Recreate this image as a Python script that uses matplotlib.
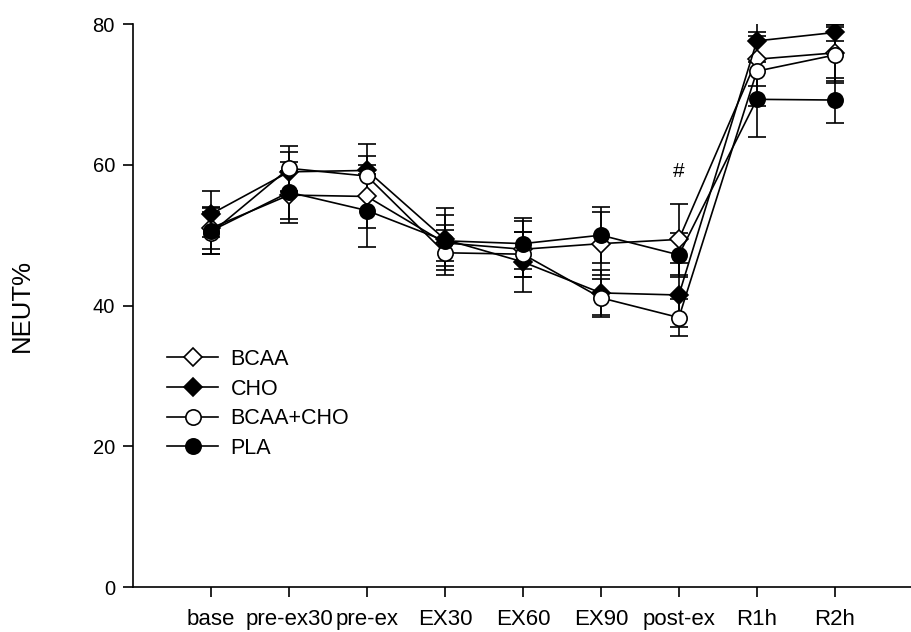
import numpy as np
import matplotlib as mpl
mpl.use('Agg')
import matplotlib.pyplot as plt

plt.rcParams['font.family'] = ['Liberation Sans', 'DejaVu Sans']

# time points
labels = ["base", "pre-ex30", "pre-ex", "EX30", "EX60", "EX90", "post-ex", "R1h", "R2h"]

# NEUT% means and SEM for each trial
bcaa = [51.0, 55.7, 55.5, 48.9, 48.0, 48.8, 49.4, 75.0, 75.9]
bcaa_err = [3.0, 3.4, 4.5, 2.5, 4.0, 4.5, 5.1, 3.8, 4.0]

cho = [53.0, 59.0, 59.2, 49.4, 46.2, 41.8, 41.5, 77.6, 78.8]
cho_err = [3.3, 2.8, 3.7, 4.4, 4.3, 3.2, 4.5, 2.5, 1.2]

bcaa_cho = [50.3, 59.5, 58.4, 47.5, 47.3, 41.1, 38.3, 73.3, 75.6]
bcaa_cho_err = [3.0, 3.2, 2.8, 3.2, 3.2, 2.7, 2.6, 5.0, 4.0]

pla = [50.6, 56.1, 53.5, 49.2, 48.8, 50.0, 47.2, 69.3, 69.2]
pla_err = [3.3, 4.3, 5.2, 3.6, 3.6, 4.0, 3.1, 5.3, 3.2]

x = np.arange(1, len(labels) + 1)

fig = plt.figure(figsize=(9.11, 6.32), dpi=100)
ax = fig.add_axes([0.146, 0.071, 0.856, 0.891])

series = [
    ("BCAA", bcaa, bcaa_err, "D", "white"),
    ("CHO", cho, cho_err, "D", "black"),
    ("BCAA+CHO", bcaa_cho, bcaa_cho_err, "o", "white"),
    ("PLA", pla, pla_err, "o", "black"),
]

for name, y, err, mk, fc in series:
    ms = 9.5 if mk == "D" else 11
    ax.errorbar(x, y, yerr=err, color="black", lw=1.2, elinewidth=1.2,
                capsize=6.5, capthick=1.2, marker=mk, ms=ms, mfc=fc,
                mec="black", mew=1.2, label=name)

# significance mark at post-ex
ax.text(7, 59, "#", ha="center", va="center", fontsize=15)

ax.set_xlim(0, 10)
ax.set_ylim(0, 80)
ax.set_xticks(x)
ax.set_xticklabels(labels)
ax.set_yticks([0, 20, 40, 60, 80])
ax.tick_params(length=7, width=1.2)
ax.tick_params(axis="x", pad=9, labelsize=16)
ax.tick_params(axis="y", pad=6, labelsize=14.5)
ax.spines["top"].set_visible(False)
ax.spines["right"].set_visible(False)
ax.spines["left"].set_linewidth(1.2)
ax.spines["bottom"].set_linewidth(1.2)
ax.set_ylabel("NEUT%", fontsize=18.5)
ax.yaxis.set_label_coords(-0.127, 0.5)

handles, names = ax.get_legend_handles_labels()
handles = [h[0] for h in handles]
ax.legend(handles, names, loc="upper left", bbox_to_anchor=(0.044, 0.423),
          frameon=False, fontsize=15.5, handlelength=2.37, handletextpad=0.56,
          labelspacing=0.4, borderaxespad=0, borderpad=0)

plt.savefig("out.png", format="png")
